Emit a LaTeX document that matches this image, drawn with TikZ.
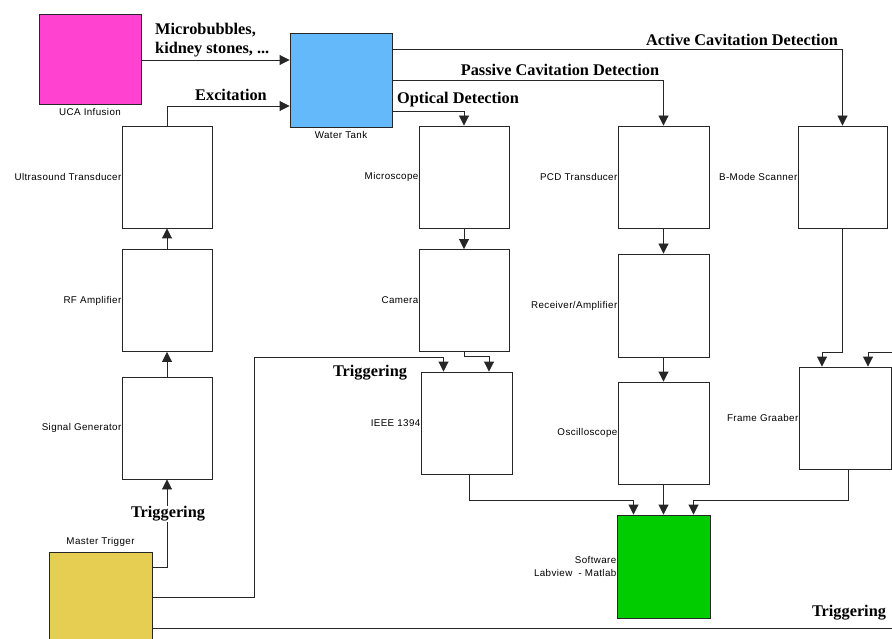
\documentclass[tikz,border=0pt]{standalone}
\usepackage{fontspec}
\setmainfont{Liberation Serif}
\newfontfamily\lblfont{Liberation Sans}[LetterSpace=4]
\usepackage{tikz}
\usepackage{xcolor}
\usetikzlibrary{arrows.meta, positioning, calc}

\definecolor{ucapink}{RGB}{255,66,208}
\definecolor{tankblue}{RGB}{99,185,250}
\definecolor{trigyellow}{RGB}{230,206,82}
\definecolor{softgreen}{RGB}{0,204,0}

\begin{document}
\begin{tikzpicture}[
  x=1pt, y=-1pt,
  blk/.style={draw=black!85, line width=0.9pt, fill=white, minimum width=90pt, minimum height=102pt, inner sep=0pt,
    label distance=1.5pt},
  lbl/.style={font=\lblfont\fontsize{9.8}{12.5}\selectfont, inner sep=0pt},
  tag/.style={font=\bfseries\fontsize{16.3}{19}\selectfont, inner sep=1pt},
  arr/.style={draw=black!85, line width=0.9pt, -{Triangle[width=10pt, length=10pt]}},
  wire/.style={draw=black!85, line width=0.9pt},
  every label/.style={lbl},
]
\clip (0,0) rectangle (892,639);
\fill[white] (0,0) rectangle (892,639);

\node[blk, fill=ucapink, minimum width=102pt, minimum height=90pt, label={[label distance=4pt]below:UCA Infusion}] (uca) at (90,59) {};
\node[blk, fill=tankblue, minimum width=102pt, minimum height=94pt, label={[label distance=4pt]below:Water Tank}] (tank) at (341,80) {};
\node[blk, fill=trigyellow, minimum width=103pt, minimum height=100pt, label={[label distance=5pt]above:Master Trigger}] (master) at (100.5,602) {};
\node[blk, fill=softgreen, minimum width=93pt, minimum height=103pt, label={[align=right]left:Software\\Labview\ \ - Matlab}] (soft) at (663.5,566.5) {};

\node[blk, label=left:Ultrasound Transducer] (ust) at (167,177) {};
\node[blk, label=left:RF Amplifier] (rfamp) at (167,300.5) {};
\node[blk, label=left:Signal Generator] (siggen) at (167,428) {};

\node[blk, label=left:Microscope] (micro) at (464,177) {};
\node[blk, label=left:Camera] (camera) at (464,300.5) {};
\node[blk, minimum width=91pt, label=left:IEEE 1394] (ieee) at (466.5,423) {};

\node[blk, minimum width=91pt, label=left:PCD Transducer] (pcd) at (663.5,177) {};
\node[blk, minimum width=91pt, minimum height=103pt, label=left:Receiver/Amplifier] (recv) at (663.5,305.5) {};
\node[blk, minimum width=91pt, label=left:Oscilloscope] (osc) at (663.5,433) {};

\node[blk, minimum width=89pt, label=left:B-Mode Scanner] (bmode) at (842.5,177) {};
\node[blk, minimum width=92pt, label=left:Frame Graaber] (frame) at (845,418) {};

\coordinate (fgin) at (892,352);
\coordinate (trigend) at (892,628);
\coordinate (trigbend) at (254,357);

\draw[arr] (uca.east |- 0,60) -- (tank.west |- 0,60);
\draw[arr] (ust.north) |- ([yshift=-26pt]tank.west);
\draw[arr] (rfamp.north) -- (ust.south);
\draw[arr] (siggen.north) -- (rfamp.south);
\draw[arr] ([yshift=35pt]master.east) -| (siggen.south);
\draw[arr] ([yshift=5pt]master.east) -| (trigbend) -| ([xshift=-23pt]ieee.north);
\draw[wire] ([yshift=-26pt]master.east) -- (trigend);

\draw[arr] ([yshift=31pt]tank.east) -| (bmode.north);
\draw[arr] (tank.east) -| (pcd.north);
\draw[arr] ([yshift=-31pt]tank.east) -| (micro.north);

\draw[arr] (micro.south) -- (camera.north);
\draw[arr] (camera.south) -- ++(0,4) -| ([xshift=22.5pt]ieee.north);
\draw[arr] (pcd.south) -- (recv.north);
\draw[arr] (recv.south) -- (osc.north);
\draw[arr] (bmode.south) -- ++(0,124) -| ([xshift=-23pt]frame.north);
\draw[arr] (fgin) -| ([xshift=23pt]frame.north);

\draw[arr] ([xshift=2.5pt]ieee.south) -- ++(0,26) -| ([xshift=-30pt]soft.north);
\draw[arr] (osc.south) -- (soft.north);
\draw[arr] ([xshift=3pt]frame.south) -- ++(0,31) -| ([xshift=30pt]soft.north);

\node[tag, anchor=west, align=left] (bubbles) at (154,40) {Microbubbles,\\kidney stones, ...};
\node[tag] (excite) at (231,95) {Excitation};
\node[tag] (optical) at (458,100) {Optical Detection};
\node[tag] (passive) at (560,70) {Passive Cavitation Detection};
\node[tag] (active) at (742,40) {Active Cavitation Detection};
\node[tag, fill=white] (trigsig) at (168,514) {Triggering};
\node[tag] (trigcam) at (370,373) {Triggering};
\node[tag] (trigout) at (849,613) {Triggering};
\end{tikzpicture}
\end{document}
